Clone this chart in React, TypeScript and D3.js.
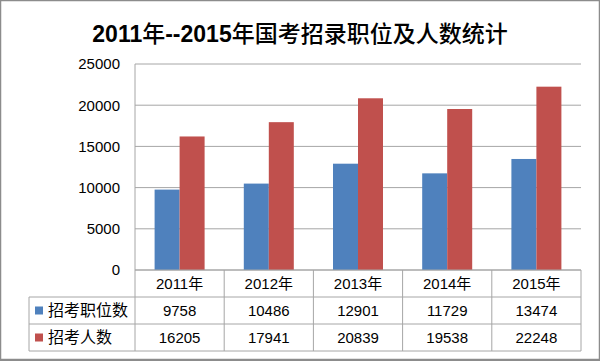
import React from "react";
import * as d3 from "d3";

const years = ["2011年", "2012年", "2013年", "2014年", "2015年"];
const seriesNames = ["招考职位数", "招考人数"];
const positions = [9758, 10486, 12901, 11729, 13474];
const applicants = [16205, 17941, 20839, 19538, 22248];
const yTicks = [0, 5000, 10000, 15000, 20000, 25000];
const colors = ["#4F81BD", "#C0504D"];

// title split so the digits can be bold and the CJK part regular
const titleParts: [string, boolean][] = [
  ["2011", true],
  ["年", false],
  ["--2015", true],
  ["年国考招录职位及人数统计", false],
];

const W = 600;
const H = 361;
const font = "'Liberation Sans', 'Noto Sans CJK SC', sans-serif";

const App: React.FC = () => {
  const left = 135;
  const right = 581;
  const top = 64;
  const bottom = 270;
  const tableLeft = 29;
  const rowH = 27;

  const x = d3.scaleBand<string>().domain(years).range([left, right]).padding(0);
  const y = d3.scaleLinear().domain([0, 25000]).range([bottom, top]);
  const groupW = 50;
  const inner = d3.scaleBand<number>().domain([0, 1]).range([0, groupW]);

  const series = [positions, applicants];
  const gridColor = "#a6a6a6";
  const tableColor = "#a6a6a6";
  const rowTops = [bottom, bottom + rowH, bottom + rowH * 2];
  const tableBottom = bottom + rowH * 3;

  return (
    <svg
      width={W}
      height={H}
      style={{ position: "fixed", left: 0, top: 0, background: "#fff" }}
      fontFamily={font}
    >
      <rect x={0} y={0} width={W} height={H} fill="#fff" />

      {/* title */}
      <text x={W / 2} y={42} textAnchor="middle" fontSize={23} fill="#000">
        {titleParts.map(([t, b], i) => (
          <tspan key={i} fontWeight={b ? "bold" : "500"}>
            {t}
          </tspan>
        ))}
      </text>

      {/* gridlines */}
      {yTicks.map((t) => (
        <line
          key={t}
          x1={left}
          x2={right}
          y1={y(t)}
          y2={y(t)}
          stroke={gridColor}
          strokeWidth={1}
        />
      ))}
      {yTicks.map((t) => (
        <text
          key={"l" + t}
          x={120}
          y={y(t)}
          dy="0.36em"
          textAnchor="end"
          fontSize={15}
          fill="#000"
        >
          {t}
        </text>
      ))}

      {/* bars */}
      {years.map((yr, i) => {
        const gx = (x(yr) as number) + (x.bandwidth() - groupW) / 2;
        return series.map((s, k) => (
          <rect
            key={yr + k}
            x={gx + (inner(k) as number)}
            y={y(s[i])}
            width={inner.bandwidth()}
            height={bottom - y(s[i])}
            fill={colors[k]}
          />
        ));
      })}

      {/* left axis line */}
      <line x1={left} x2={left} y1={top} y2={tableBottom} stroke={gridColor} />

      {/* data table */}
      <line x1={left} x2={right} y1={bottom} y2={bottom} stroke={tableColor} />
      {[rowTops[1], rowTops[2], tableBottom].map((ry, i) => (
        <line
          key={"h" + i}
          x1={tableLeft}
          x2={right}
          y1={ry}
          y2={ry}
          stroke={tableColor}
        />
      ))}
      <line
        x1={tableLeft}
        x2={tableLeft}
        y1={rowTops[1]}
        y2={tableBottom}
        stroke={tableColor}
      />
      {years.map((yr) => (
        <line
          key={"v" + yr}
          x1={(x(yr) as number) + x.bandwidth()}
          x2={(x(yr) as number) + x.bandwidth()}
          y1={bottom}
          y2={tableBottom}
          stroke={tableColor}
        />
      ))}
      {years.map((yr) => (
        <text
          key={"c" + yr}
          x={(x(yr) as number) + x.bandwidth() / 2}
          y={rowTops[0] + rowH / 2}
          dy="0.36em"
          textAnchor="middle"
          fontSize={15}
          fill="#000"
        >
          {yr}
        </text>
      ))}
      {series.map((s, k) => (
        <g key={"r" + k}>
          <rect
            x={35}
            y={rowTops[k + 1] + rowH / 2 - 4}
            width={8}
            height={8}
            fill={colors[k]}
          />
          <text
            x={48}
            y={rowTops[k + 1] + rowH / 2}
            dy="0.36em"
            fontSize={16}
            fill="#000"
          >
            {seriesNames[k]}
          </text>
          {years.map((yr, i) => (
            <text
              key={yr}
              x={(x(yr) as number) + x.bandwidth() / 2}
              y={rowTops[k + 1] + rowH / 2}
              dy="0.36em"
              textAnchor="middle"
              fontSize={15}
              fill="#000"
            >
              {s[i]}
            </text>
          ))}
        </g>
      ))}

      {/* outer border */}
      <rect
        x={0.5}
        y={0.5}
        width={W - 1}
        height={H - 2}
        fill="none"
        stroke="#8c8c8c"
        strokeWidth={1.5}
      />
      <line x1={0} x2={W} y1={H - 1} y2={H - 1} stroke="#8c8c8c" strokeWidth={2} />
    </svg>
  );
};

export default App;
